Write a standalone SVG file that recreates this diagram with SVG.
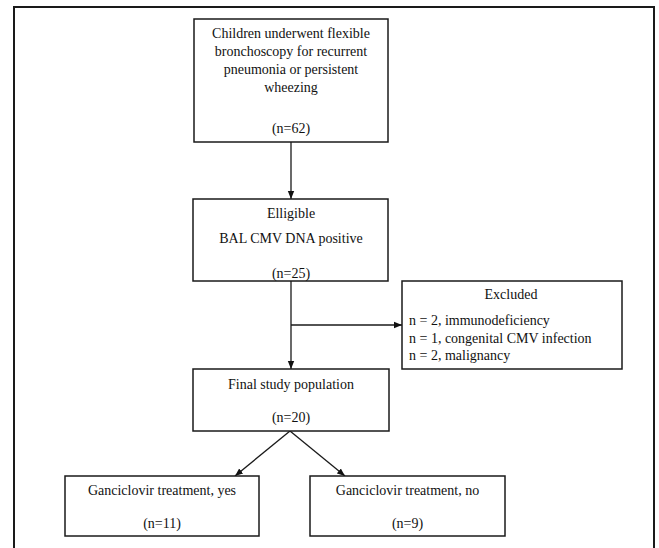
<svg xmlns="http://www.w3.org/2000/svg" width="659" height="548" viewBox="0 0 659 548">
<defs>
<style>
.box{fill:#fff;stroke:#1a1a1a;stroke-width:1.5}
.t{font-family:"Liberation Serif","Times New Roman",serif;font-size:14px;fill:#111}
.c{text-anchor:middle}
.ln{stroke:#1a1a1a;stroke-width:1.3;fill:none}
</style>
<marker id="ah" viewBox="0 0 10 10" refX="10" refY="5" markerWidth="8" markerHeight="8" markerUnits="userSpaceOnUse" orient="auto">
<path d="M0,1 L10,5 L0,9 z" fill="#111"/>
</marker>
</defs>
<rect width="659" height="548" fill="#fff"/>
<rect x="14" y="7" width="640" height="560" fill="none" stroke="#1a1a1a" stroke-width="2"/>
<g id="connectors">
<line class="ln" x1="291" y1="142" x2="291" y2="199" marker-end="url(#ah)"/>
<line class="ln" x1="291" y1="281" x2="291" y2="369" marker-end="url(#ah)"/>
<line class="ln" x1="291" y1="325" x2="402" y2="325" marker-end="url(#ah)"/>
<line class="ln" x1="290" y1="431" x2="235" y2="476" marker-end="url(#ah)"/>
<line class="ln" x1="290" y1="431" x2="345" y2="476" marker-end="url(#ah)"/>
</g>
<g id="node-children">
<rect class="box" x="194" y="19" width="194" height="123"/>
<text class="t c" x="291" y="38">Children underwent flexible</text>
<text class="t c" x="291" y="56">bronchoscopy for recurrent</text>
<text class="t c" x="291" y="74">pneumonia or persistent</text>
<text class="t c" x="291" y="92">wheezing</text>
<text class="t c" x="291" y="133">(n=62)</text>
</g>
<g id="node-eligible">
<rect class="box" x="193" y="199" width="195" height="82"/>
<text class="t c" x="291" y="218">Elligible</text>
<text class="t c" x="291" y="243">BAL CMV DNA positive</text>
<text class="t c" x="291" y="278">(n=25)</text>
</g>
<g id="node-excluded">
<rect class="box" x="402" y="281" width="220" height="88"/>
<text class="t c" x="511" y="299">Excluded</text>
<text class="t" x="409" y="325">n = 2, immunodeficiency</text>
<text class="t" x="409" y="343">n = 1, congenital CMV infection</text>
<text class="t" x="409" y="360">n = 2, malignancy</text>
</g>
<g id="node-final">
<rect class="box" x="193" y="369" width="196" height="62"/>
<text class="t c" x="291" y="389">Final study population</text>
<text class="t c" x="291" y="422">(n=20)</text>
</g>
<g id="node-yes">
<rect class="box" x="65" y="476" width="194" height="60"/>
<text class="t c" x="162" y="495">Ganciclovir treatment, yes</text>
<text class="t c" x="162" y="528">(n=11)</text>
</g>
<g id="node-no">
<rect class="box" x="310" y="476" width="195" height="60"/>
<text class="t c" x="407.5" y="495">Ganciclovir treatment, no</text>
<text class="t c" x="407.5" y="528">(n=9)</text>
</g>
</svg>
